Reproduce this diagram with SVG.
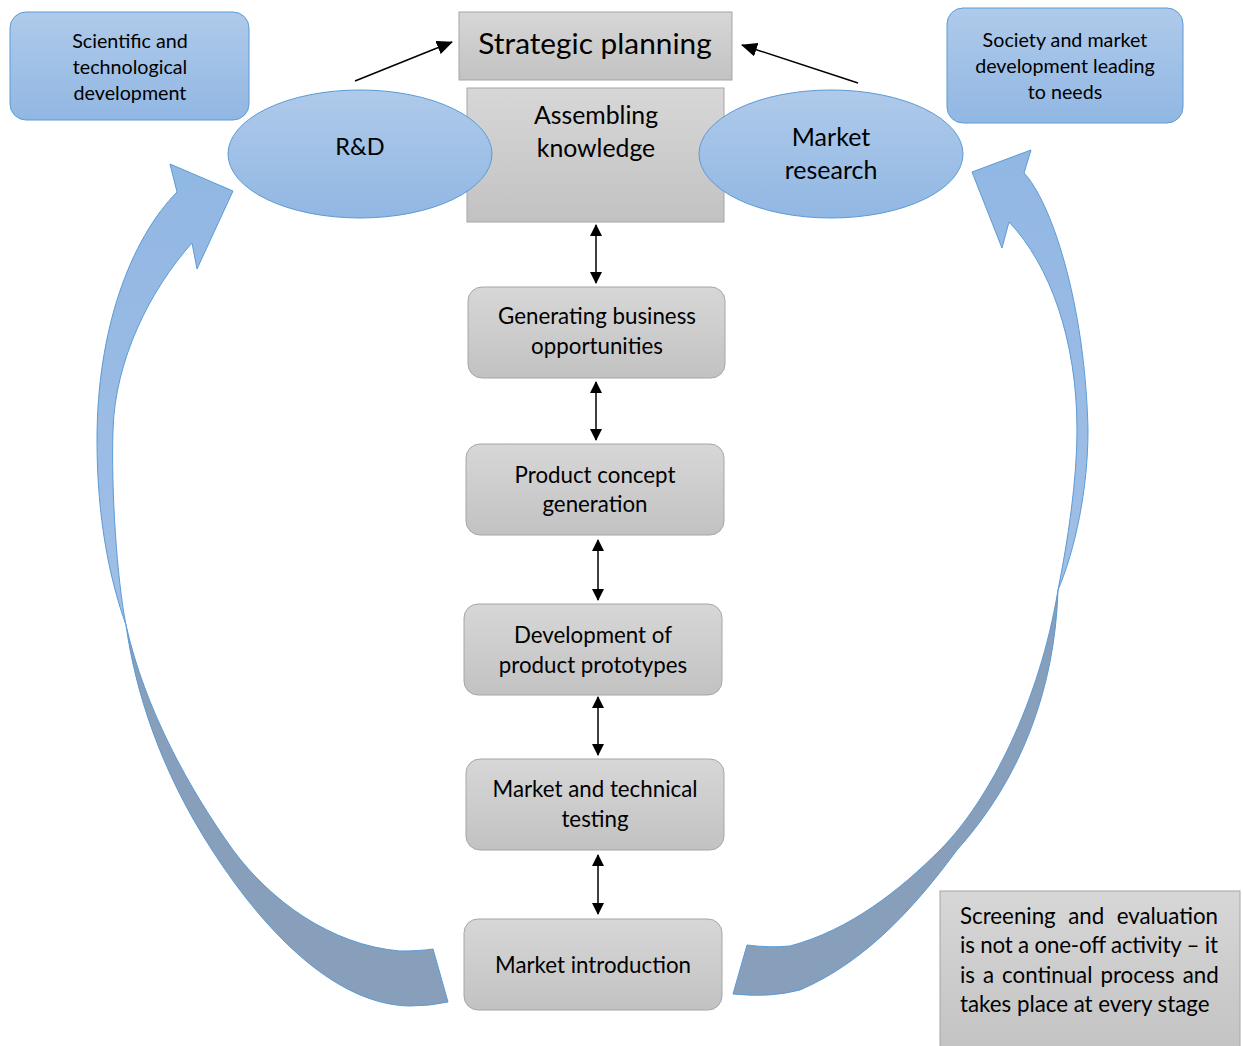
<svg xmlns="http://www.w3.org/2000/svg" width="1243" height="1046" viewBox="0 0 1243 1046">
<defs>
<linearGradient id="gGray" x1="0" y1="0" x2="0" y2="1"><stop offset="0" stop-color="#d7d7d7"/><stop offset="1" stop-color="#c2c2c2"/></linearGradient>
<linearGradient id="gBlue" x1="0" y1="0" x2="0" y2="1"><stop offset="0" stop-color="#afcaea"/><stop offset="1" stop-color="#91b7e3"/></linearGradient>
<linearGradient id="gArrow" x1="0" y1="0" x2="0" y2="1"><stop offset="0" stop-color="#91b7e3"/><stop offset="1" stop-color="#a0bfe6"/></linearGradient>
<marker id="ah" viewBox="0 0 12 12" refX="11" refY="6" markerWidth="12" markerHeight="12" markerUnits="userSpaceOnUse" orient="auto-start-reverse"><path d="M0,0 L12,6 L0,12 Z" fill="#000"/></marker>
<marker id="ah2" viewBox="0 0 16 14" refX="15" refY="7" markerWidth="16" markerHeight="14" markerUnits="userSpaceOnUse" orient="auto-start-reverse"><path d="M0,0 L16,7 L0,14 Z" fill="#000"/></marker>
</defs>
<style>
text{font-family:Lato,"Open Sans","Liberation Sans",sans-serif;fill:#000;text-anchor:middle}
.gray{fill:url(#gGray);stroke:#a6a6a6;stroke-width:1}
.blue{fill:url(#gBlue);stroke:#5b9bd5;stroke-width:1}
.light{fill:url(#gArrow);stroke:#5b9bd5;stroke-width:1}
.dark{fill:#889fbb;stroke:#5b9bd5;stroke-width:1}
.conn{stroke:#000;stroke-width:1.5;fill:none}
.t21{font-size:22.3px}
.t19{font-size:19.7px}
.s{text-anchor:start}
</style>
<g id="curved-arrow-left">
<path class="dark" d="M126,625 C135,690 160,770 212,850 C270,940 340,1005 410,1006 Q430,1006 448,1002 L433,949 Q420,951 400,951 C330,945 270,900 233,850 C190,790 145,710 126,625 Z"/>
<path class="light" d="M192,243 L197,269 L233,191 L170,164 L177,192 C130,240 97,330 97,440 C97,520 110,580 126,625 C117,580 111,490 113,430 C115,360 150,290 192,243 Z"/>
</g>
<g id="curved-arrow-right">
<path class="dark" d="M1058,590 C1055,690 1020,780 957,850 C920,900 870,960 800,990 Q770,998 733,994 L747,945 Q770,948 790,946 C850,930 900,890 940,850 C990,800 1040,700 1058,590 Z"/>
<path class="light" d="M1009,222 L1002,248 L972,172 L1031,150 L1024,173 C1050,200 1085,300 1088,430 C1088,490 1075,550 1058,590 C1068,540 1077,480 1077,430 C1077,340 1050,265 1009,222 Z"/>
</g>
<g id="strategic-planning">
<rect class="gray" x="459" y="12" width="273" height="68"/>
<text x="595" y="54" font-size="29.8">Strategic planning</text>
</g>
<g id="assembling-knowledge">
<rect class="gray" x="467" y="88" width="257" height="134"/>
<text x="596" y="124" font-size="24.8">Assembling</text>
<text x="596" y="157" font-size="24.8">knowledge</text>
</g>
<g id="rd">
<ellipse class="blue" cx="360" cy="154" rx="132" ry="64"/>
<text x="360" y="155" font-size="23.5">R&amp;D</text>
</g>
<g id="market-research">
<ellipse class="blue" cx="831" cy="154" rx="132" ry="64"/>
<text x="831" y="146" font-size="25">Market</text>
<text x="831" y="179" font-size="25">research</text>
</g>
<g id="scientific">
<rect class="blue" x="10" y="12" width="239" height="108" rx="16"/>
<text class="t19" x="130" y="48">Scientific and</text>
<text class="t19" x="130" y="74">technological</text>
<text class="t19" x="130" y="100">development</text>
</g>
<g id="society">
<rect class="blue" x="947" y="8" width="236" height="115" rx="16"/>
<text class="t19" x="1065" y="47">Society and market</text>
<text class="t19" x="1065" y="73">development leading</text>
<text class="t19" x="1065" y="99">to needs</text>
</g>
<g id="generating">
<rect class="gray" x="468" y="287" width="257" height="91" rx="14"/>
<text class="t21" x="597" y="324">Generating business</text>
<text class="t21" x="597" y="354">opportunities</text>
</g>
<g id="concept">
<rect class="gray" x="466" y="444" width="258" height="91" rx="14"/>
<text class="t21" x="595" y="483">Product concept</text>
<text class="t21" x="595" y="512">generation</text>
</g>
<g id="prototypes">
<rect class="gray" x="464" y="604" width="258" height="91" rx="14"/>
<text class="t21" x="593" y="643">Development of</text>
<text class="t21" x="593" y="673">product prototypes</text>
</g>
<g id="testing">
<rect class="gray" x="466" y="759" width="258" height="91" rx="14"/>
<text class="t21" x="595" y="797">Market and technical</text>
<text class="t21" x="595" y="827">testing</text>
</g>
<g id="introduction">
<rect class="gray" x="464" y="919" width="258" height="91" rx="14"/>
<text class="t21" x="593" y="973">Market introduction</text>
</g>
<g id="screening">
<rect class="gray" x="940" y="891" width="300" height="165"/>
<text class="t21 s" x="960" y="924" word-spacing="6.8">Screening and evaluation</text>
<text class="t21 s" x="960" y="953" textLength="258" lengthAdjust="spacing">is not a one-off activity – it</text>
<text class="t21 s" x="960" y="983" word-spacing="2.3">is a continual process and</text>
<text class="t21 s" x="960" y="1012">takes place at every stage</text>
</g>
<g id="connectors">
<line class="conn" x1="355" y1="81" x2="452" y2="42" marker-end="url(#ah2)"/>
<line class="conn" x1="858" y1="83" x2="742" y2="45" marker-end="url(#ah2)"/>
<line class="conn" x1="596" y1="225" x2="596" y2="283" marker-start="url(#ah)" marker-end="url(#ah)"/>
<line class="conn" x1="596" y1="382" x2="596" y2="440" marker-start="url(#ah)" marker-end="url(#ah)"/>
<line class="conn" x1="598" y1="540" x2="598" y2="600" marker-start="url(#ah)" marker-end="url(#ah)"/>
<line class="conn" x1="598" y1="697" x2="598" y2="755" marker-start="url(#ah)" marker-end="url(#ah)"/>
<line class="conn" x1="598" y1="855" x2="598" y2="914" marker-start="url(#ah)" marker-end="url(#ah)"/>
</g>
</svg>
